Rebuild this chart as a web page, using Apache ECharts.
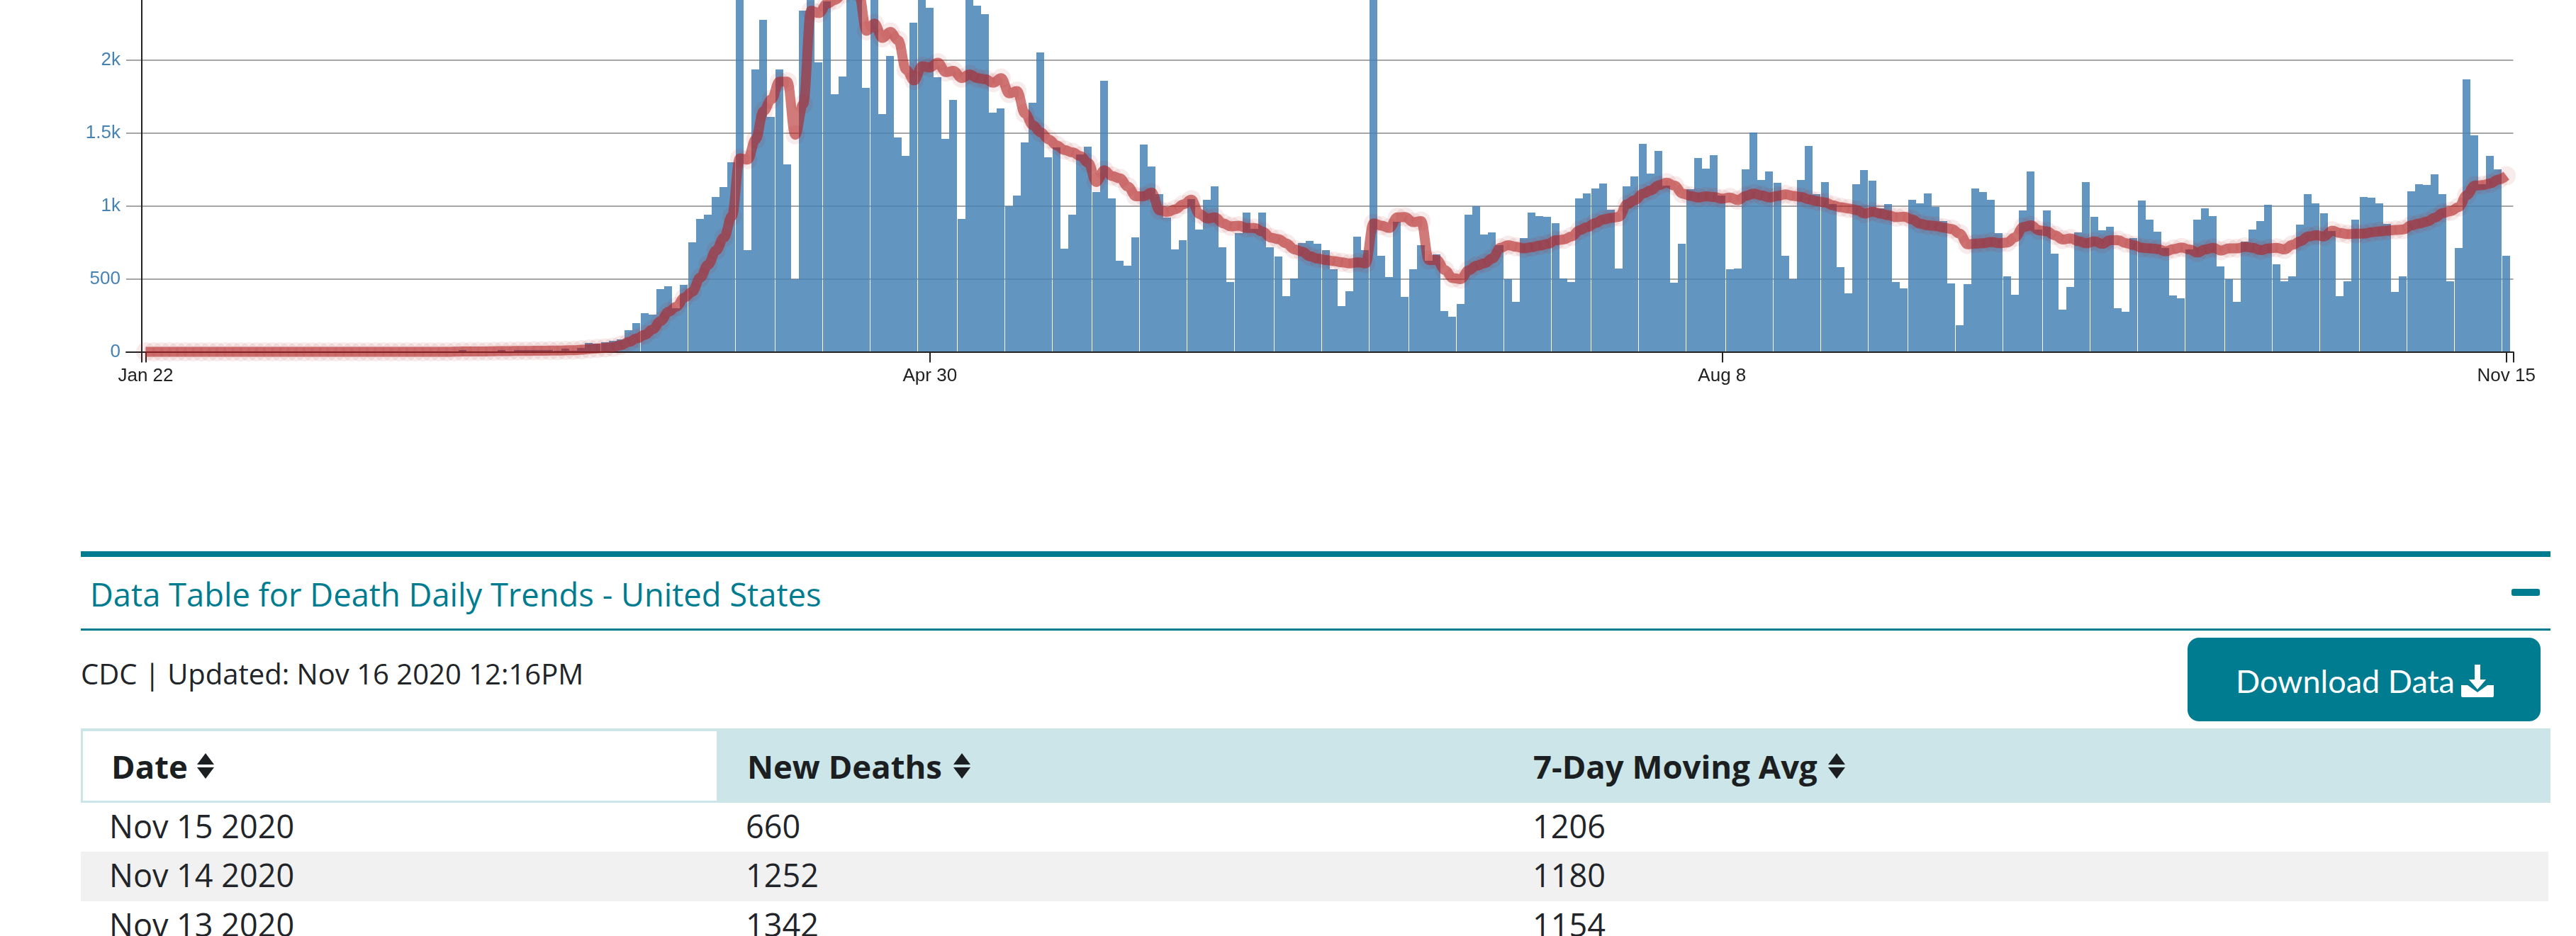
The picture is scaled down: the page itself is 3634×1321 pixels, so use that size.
<!DOCTYPE html>
<html>
<head>
<meta charset="utf-8">
<title>Death Daily Trends - United States</title>
<script src="https://cdn.jsdelivr.net/npm/echarts@6/dist/echarts.min.js"></script>
<style>
html, body { margin: 0; padding: 0; background: #fff; }
body { position: relative; width: 3634px; height: 1321px; overflow: hidden; font-family: "Open Sans", sans-serif; color: #212529; }
#chart { position: absolute; left: 0; top: 0; width: 3634px; height: 560px; }
.abs { position: absolute; }
.title { left: 127px; top: 808px; font-size: 45.3px; line-height: 62px; color: #007c91; white-space: nowrap; }
.updated { left: 114px; top: 923px; font-size: 40px; line-height: 56px; white-space: nowrap; }
.btn { left: 3086px; top: 900px; width: 498px; height: 118px; border-radius: 16px; background: #007c91; color: #fff; font-family: Lato, sans-serif; }
.btn span { position: absolute; left: 68px; top: 31px; font-size: 45px; line-height: 60px; white-space: nowrap; }
.btn svg { position: absolute; left: 386px; top: 38px; }
.th { top: 1050px; font-size: 45.5px; line-height: 62px; font-weight: 700; color: #1b1f21; white-space: nowrap; }
.td { font-size: 45px; line-height: 62px; white-space: nowrap; }
</style>
</head>
<body>
<div id="chart"></div>

<div class="abs" style="left:114px;top:778px;width:3484px;height:8px;background:#007c91"></div>
<div class="abs title">Data Table for Death Daily Trends - United States</div>
<div class="abs" style="left:3543px;top:831px;width:40px;height:10px;border-radius:3px;background:#007c91"></div>
<div class="abs" style="left:114px;top:887px;width:3484px;height:3px;background:#007c91"></div>
<div class="abs updated">CDC | Updated: Nov 16 2020 12:16PM</div>

<div class="abs btn">
  <span>Download Data</span>
  <svg width="46" height="46" viewBox="0 0 46 46"><path fill="#fff" d="M19 0h8v21h8L23 35 11 21h8z"/><path fill="#fff" d="M0 29h9l14 10 14-10h9v15a2 2 0 0 1-2 2H2a2 2 0 0 1-2-2z"/></svg>
</div>

<div class="abs" style="left:114px;top:1028px;width:3484px;height:105px;background:#cbe5e8"></div>
<div class="abs" style="left:117px;top:1032px;width:894px;height:98px;background:#fff"></div>
<div id="table"></div>

<script>
// values, index 0 = Jan 22 2020
const newDeaths = [
  0, 0, 0, 0, 0, 0, 0, 0, 0, 0,
  0, 0, 0, 0, 0, 0, 0, 0, 0, 0,
  0, 0, 0, 0, 0, 0, 0, 0, 0, 0,
  0, 0, 0, 0, 0, 0, 0, 0, 1, 0,
  11, 3, 2, 4, 3, 11, 4, 11, 10, 11,
  10, 11, 8, 21, 5, 27, 61, 56, 64, 77,
  84, 148, 197, 265, 255, 429, 448, 298, 458, 749,
  908, 938, 1060, 1128, 1298, 2700, 696, 1934, 2273, 1608,
  1934, 1283, 498, 2337, 2550, 1982, 2401, 1764, 1885, 2600,
  2750, 1807, 2500, 1628, 2026, 1468, 1341, 2254, 2480, 2356,
  1880, 1458, 1725, 909, 2470, 2370, 2312, 1638, 1667, 997,
  1070, 1434, 1705, 2050, 1332, 1400, 705, 938, 1350, 1405,
  1094, 1856, 1050, 623, 589, 783, 1419, 1269, 1079, 919,
  700, 764, 1045, 837, 1040, 1133, 715, 477, 812, 953,
  843, 953, 715, 652, 380, 503, 744, 759, 739, 696,
  565, 312, 414, 788, 696, 2550, 657, 511, 890, 375,
  565, 730, 625, 667, 278, 239, 328, 940, 998, 804,
  819, 731, 498, 343, 780, 955, 930, 925, 882, 503,
  479, 1052, 1086, 1120, 1154, 974, 571, 1134, 1202, 1426,
  1222, 1377, 1138, 474, 741, 1115, 1328, 1256, 1348, 1071,
  566, 571, 1251, 1503, 1178, 1236, 1158, 659, 498, 1178,
  1411, 1081, 1163, 1013, 581, 401, 1149, 1246, 1173, 985,
  1013, 479, 435, 1042, 1018, 1086, 994, 896, 469, 183,
  464, 1120, 1095, 1042, 814, 518, 392, 969, 1236, 838,
  969, 673, 290, 445, 819, 1163, 925, 833, 858, 299,
  275, 780, 1037, 906, 823, 712, 387, 367, 700, 906,
  984, 930, 586, 498, 343, 756, 838, 896, 1008, 600,
  484, 518, 872, 1078, 1015, 951, 828, 383, 485, 903,
  1063, 1058, 1015, 874, 408, 515, 1097, 1146, 1141, 1214,
  1078, 485, 709, 1864, 1481, 1150, 1342, 1252, 660
]
const movingAvg = [
  0, 0, 0, 0, 0, 0, 0, 0, 0, 0,
  0, 0, 0, 0, 0, 0, 0, 0, 0, 0,
  0, 0, 0, 0, 0, 0, 0, 0, 0, 0,
  0, 0, 0, 0, 0, 0, 0, 0, 0, 1,
  2, 2, 3, 3, 4, 5, 5, 6, 6, 7,
  7, 8, 8, 10, 11, 14, 19, 23, 27, 32,
  45, 68, 92, 116, 153, 210, 274, 310, 371, 411,
  508, 597, 694, 783, 929, 1325, 1317, 1455, 1649, 1730,
  1851, 1851, 1487, 1697, 2337, 2320, 2385, 2410, 2450, 2480,
  2460, 2199, 2248, 2150, 2191, 2134, 1932, 1859, 1956, 1948,
  1981, 1916, 1924, 1875, 1900, 1875, 1867, 1843, 1875, 1770,
  1786, 1633, 1552, 1503, 1455, 1414, 1382, 1366, 1341, 1293,
  1163, 1244, 1204, 1188, 1131, 1066, 1066, 1091, 969, 958,
  977, 1010, 1042, 945, 913, 921, 880, 859, 864, 848,
  848, 824, 783, 772, 743, 702, 686, 654, 638, 629,
  621, 613, 605, 613, 605, 880, 864, 848, 921, 924,
  888, 896, 629, 629, 560, 505, 498, 558, 590, 607,
  639, 712, 731, 720, 709, 717, 728, 739, 764, 769,
  790, 833, 854, 882, 906, 917, 925, 1011, 1039, 1084,
  1105, 1141, 1159, 1138, 1084, 1068, 1057, 1065, 1060, 1049,
  1057, 1039, 1068, 1084, 1071, 1057, 1068, 1079, 1068, 1060,
  1044, 1032, 1023, 1003, 990, 982, 971, 947, 960, 947,
  935, 922, 926, 906, 877, 866, 862, 850, 841, 809,
  736, 741, 744, 752, 744, 749, 785, 854, 866, 833,
  825, 798, 769, 777, 757, 744, 757, 739, 764, 765,
  744, 731, 712, 709, 704, 688, 704, 715, 701, 680,
  701, 712, 693, 709, 709, 720, 712, 696, 709, 712,
  701, 733, 757, 790, 798, 790, 830, 814, 806, 809,
  809, 819, 825, 830, 835, 838, 866, 879, 892, 919,
  951, 964, 992, 1073, 1138, 1142, 1154, 1180, 1206
]
const tickDays = [0, 99, 199, 298]
const tickLabels = ['Jan 22', 'Apr 30', 'Aug 8', 'Nov 15']
const yTicks = [0, 500, 1000, 1500, 2000]
const tableHeads = ['Date', 'New Deaths', '7-Day Moving Avg']
const tableDates = ['Nov 15 2020', 'Nov 14 2020', 'Nov 13 2020']
const tableDeaths = [660, 1252, 1342]
const tableAvgs = [1206, 1180, 1154]

// axis range: one day is 11.175px, bar 0 is centred at x=205.5
const xMin = -2.461
const xMax = 298.881
const yMax = 2410
const outerTickLeft = -0.537

const barColor = 'rgba(70, 130, 180, 0.85)'

const chart = echarts.init(document.getElementById('chart'), null, { renderer: 'canvas' })

function renderBar(params, api) {
  const top = api.coord([api.value(0), api.value(1)])
  const base = api.coord([api.value(0), 0])
  if (api.value(1) === 0) return null
  const x = Math.floor(top[0] - 5.5)
  const y = Math.round(top[1])
  return {
    type: 'rect',
    shape: { x: x, y: y, width: 11, height: Math.floor(base[1]) - y },
    style: { fill: barColor }
  }
}

chart.setOption({
  animation: false,
  grid: { left: 178, top: 0, width: 3367.5, height: 496.5 },
  xAxis: {
    type: 'value',
    min: xMin,
    max: xMax,
    splitLine: { show: false },
    axisLine: { show: true, onZero: false, lineStyle: { color: '#222', width: 2 } },
    axisTick: {
      show: true,
      length: 15,
      lineStyle: { color: '#222', width: 2 },
      customValues: [outerTickLeft].concat(tickDays, [xMax])
    },
    axisLabel: {
      customValues: tickDays,
      margin: 21,
      fontFamily: '"Liberation Sans", Arial, sans-serif',
      fontSize: 26,
      color: '#222',
      formatter: v => tickLabels[tickDays.indexOf(v)]
    }
  },
  yAxis: {
    type: 'value',
    min: 0,
    max: yMax,
    offset: -21.5,
    axisLine: { show: true, onZero: false, lineStyle: { color: '#222', width: 2 } },
    axisTick: { show: false, customValues: yTicks },
    splitLine: { show: true, lineStyle: { color: '#a6a6a6', width: 2 } },
    axisLabel: {
      customValues: yTicks,
      margin: 29.5,
      fontFamily: '"Liberation Sans", Arial, sans-serif',
      fontSize: 26,
      color: '#4682b4',
      formatter: v => (v >= 1000 ? v / 1000 + 'k' : String(v))
    }
  },
  series: [
    {
      name: 'New Deaths',
      type: 'custom',
      renderItem: renderBar,
      clip: false,
      z: 2,
      encode: { x: 0, y: 1 },
      data: newDeaths.map((v, i) => [i, v])
    },
    {
      name: '7-Day Moving Avg',
      type: 'line',
      z: 3,
      clip: false,
      smooth: 0.4,
      smoothMonotone: 'x',
      showSymbol: true,
      showAllSymbol: true,
      symbol: 'circle',
      symbolSize: 27,
      itemStyle: { color: '#b22222', opacity: 0.09 },
      lineStyle: { color: '#b22222', width: 14, opacity: 0.6 },
      emphasis: { disabled: true },
      data: movingAvg.map((v, i) => [i, v])
    }
  ]
})

// data table under the chart
const rowTops = [1133, 1202, 1272]
const colX = [154, 1052, 2162]
const headX = [157, 1054, 2163]
const sortX = [277, 1344, 2578]
const table = document.getElementById('table')

function addCell(cls, x, y, text) {
  const el = document.createElement('div')
  el.className = 'abs ' + cls
  el.style.left = x + 'px'
  if (y !== null) el.style.top = y + 'px'
  el.textContent = text
  table.appendChild(el)
}

tableHeads.forEach((h, i) => {
  addCell('th', headX[i], null, h)
  const s = document.createElementNS('http://www.w3.org/2000/svg', 'svg')
  s.setAttribute('width', 26)
  s.setAttribute('height', 36)
  s.setAttribute('class', 'abs')
  s.style.left = sortX[i] + 'px'
  s.style.top = '1063px'
  s.innerHTML = '<path fill="#1b1f21" d="M13 0l12 16H1zM13 36L1 20h24z"/>'
  table.appendChild(s)
})

const stripe = document.createElement('div')
stripe.className = 'abs'
stripe.style.cssText = 'left:114px;top:1202px;width:3481px;height:69.5px;background:#f1f1f1'
table.appendChild(stripe)

tableDates.forEach((d, r) => {
  const y = rowTops[r] + 2
  addCell('td', colX[0], y, d)
  addCell('td', colX[1], y, tableDeaths[r])
  addCell('td', colX[2], y, tableAvgs[r])
})
</script>
</body>
</html>
